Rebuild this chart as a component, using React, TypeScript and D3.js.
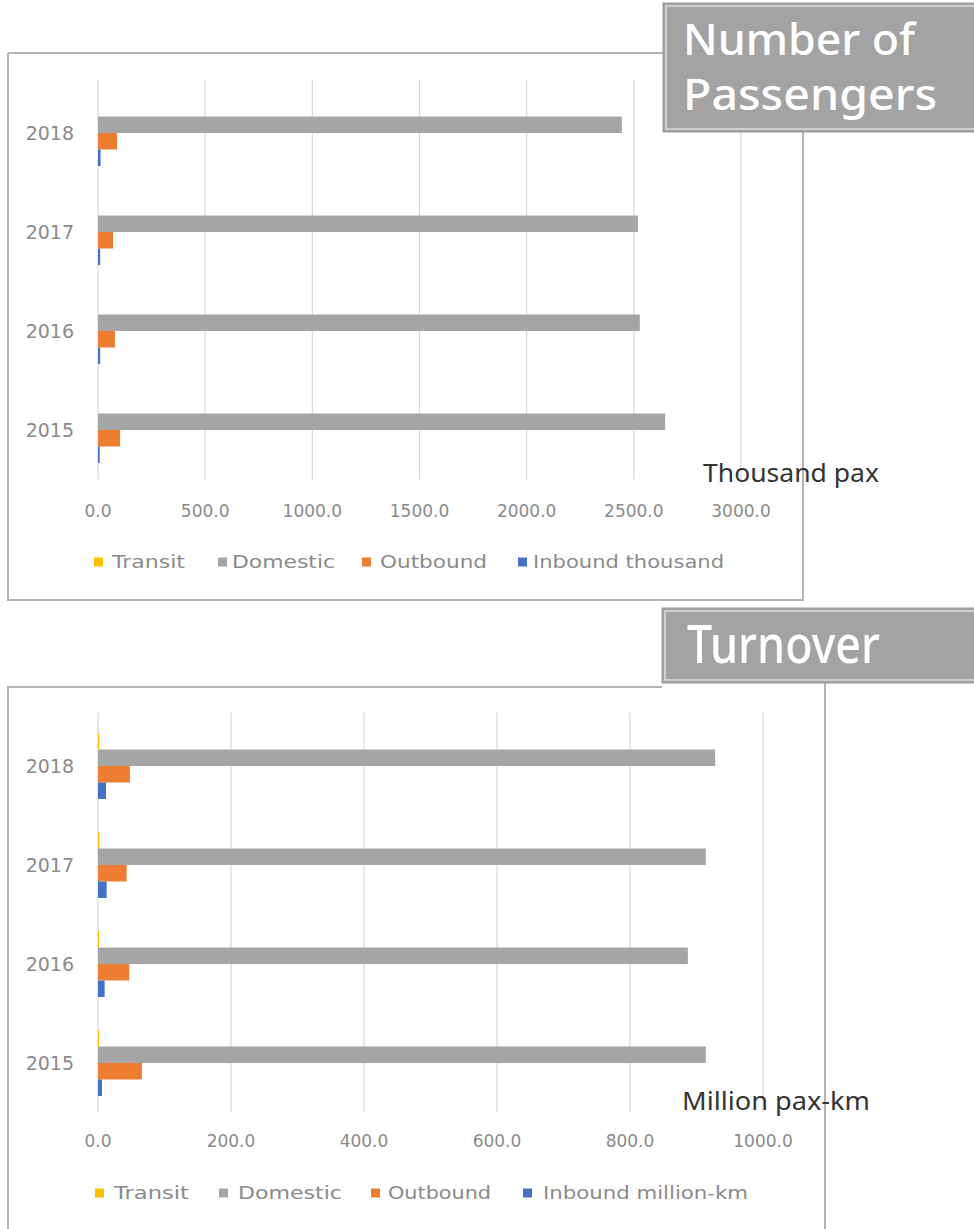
import React from "react";
import * as d3 from "d3";

const years = ["2018", "2017", "2016", "2015"];
const seriesNames = ["Transit", "Domestic", "Outbound", "Inbound"];
const seriesColors = ["#ffc000", "#a5a5a5", "#ed7d31", "#4472c4"];

// Number of passengers (thousand pax)
const paxTransit = [0, 0, 0, 0];
const paxDomestic = [2444, 2519, 2528, 2646];
const paxOutbound = [89, 70, 79, 103];
const paxInbound = [12, 10, 10, 8];
const paxTicks = [0, 500, 1000, 1500, 2000, 2500, 3000];
const paxLegend = ["Transit", "Domestic", "Outbound", "Inbound thousand"];

// Turnover (million pax-km)
const turnTransit = [2, 2, 0.5, 0.5];
const turnDomestic = [928, 914, 887, 914];
const turnOutbound = [48, 43, 47, 66];
const turnInbound = [12, 13, 10, 6];
const turnTicks = [0, 200, 400, 600, 800, 1000];
const turnLegend = ["Transit", "Domestic", "Outbound", "Inbound million-km"];

type PanelProps = {
  values: number[][];
  ticks: number[];
  xMax: number;
  xRange: [number, number];
  yRange: [number, number];
  tickY: number;
  legendY: number;
  legend: string[];
  legendSq: number[];
  legendTx: number[];
  legendTw: number[];
};

function Panel(p: PanelProps) {
  const x = d3.scaleLinear().domain([0, p.xMax]).range(p.xRange);
  const y = d3.scaleBand<string>().domain(years).range(p.yRange).padding(0);
  const bw = y.bandwidth();
  const inner = d3
    .scaleBand<string>()
    .domain(seriesNames)
    .range([bw / 6, (bw * 5) / 6])
    .padding(0);
  const fmt = d3.format(".1f");
  return (
    <g>
      {p.ticks.map((t) => (
        <line
          key={"g" + t}
          x1={x(t)}
          x2={x(t)}
          y1={p.yRange[0] - 4}
          y2={p.yRange[1]}
          stroke="#d9d9d9"
          strokeWidth={1.2}
        />
      ))}
      {years.map((yr, i) =>
        seriesNames.map((s, j) =>
          p.values[j][i] > 0 ? (
            <rect
              key={yr + s}
              x={x(0)}
              y={(y(yr) as number) + (inner(s) as number)}
              width={Math.max(1, x(p.values[j][i]) - x(0))}
              height={inner.bandwidth()}
              fill={seriesColors[j]}
            />
          ) : null
        )
      )}
      {years.map((yr) => (
        <text
          key={"yl" + yr}
          x={x(0) - 24}
          y={(y(yr) as number) + bw / 2}
          dy="0.35em"
          textAnchor="end"
          fontFamily="DejaVu Sans"
          fontSize={19}
          fill="#8a8a8a"
        >
          {yr}
        </text>
      ))}
      {p.ticks.map((t) => (
        <text
          key={"t" + t}
          x={x(t)}
          y={p.tickY}
          dy="0.35em"
          textAnchor="middle"
          fontFamily="DejaVu Sans"
          fontSize={17}
          fill="#8a8a8a"
        >
          {fmt(t)}
        </text>
      ))}
      {p.legend.map((l, i) => (
        <g key={"lg" + l}>
          <rect x={p.legendSq[i]} y={p.legendY - 4.5} width={9} height={9} fill={seriesColors[i]} />
          <text
            x={p.legendTx[i]}
            y={p.legendY}
            dy="0.35em"
            fontFamily="DejaVu Sans"
            fontSize={18}
            fill="#8a8a8a"
            textLength={p.legendTw[i]}
            lengthAdjust="spacingAndGlyphs"
          >
            {l}
          </text>
        </g>
      ))}
    </g>
  );
}

export default function App() {
  return (
    <svg
      width={974}
      height={1229}
      style={{ position: "absolute", left: 0, top: 0, background: "#fff" }}
    >
      {/* top frame */}
      <path d="M8,53 L663,53 M8,53 L8,600 L803,600 L803,132" fill="none" stroke="#b4b4b4" strokeWidth={2} />
      <Panel
        values={[paxTransit, paxDomestic, paxOutbound, paxInbound]}
        ticks={paxTicks}
        xMax={3000}
        xRange={[98, 741]}
        yRange={[83.5, 479.5]}
        tickY={511}
        legendY={562}
        legend={paxLegend}
        legendSq={[94, 218, 362, 518]}
        legendTx={[112, 232, 380, 533]}
        legendTw={[73, 103, 107, 191]}
      />
      <text x={703} y={482} fontFamily="Noto Sans" fontSize={25} fill="#333" textLength={176} lengthAdjust="spacingAndGlyphs">
        Thousand pax
      </text>
      {/* title box 1 */}
      <rect x={663} y={3} width={320} height={129} fill="#a3a3a3" stroke="#9a9a9a" strokeWidth={1} />
      <rect x={666} y={6} width={320} height={123} fill="none" stroke="#cfcfcf" strokeWidth={2} />
      <text x={683} y={55} fontFamily="Noto Sans" fontWeight={500} fontSize={44} fill="#ffffff" textLength={232} lengthAdjust="spacingAndGlyphs">
        Number of
      </text>
      <text x={683} y={110} fontFamily="Noto Sans" fontWeight={500} fontSize={44} fill="#ffffff" textLength={254} lengthAdjust="spacingAndGlyphs">
        Passengers
      </text>

      {/* bottom frame */}
      <path d="M8,1229 L8,687 L662,687 M825,683 L825,1229" fill="none" stroke="#b4b4b4" strokeWidth={2} />
      <Panel
        values={[turnTransit, turnDomestic, turnOutbound, turnInbound]}
        ticks={turnTicks}
        xMax={1000}
        xRange={[98, 763]}
        yRange={[716.5, 1112.5]}
        tickY={1141}
        legendY={1193}
        legend={turnLegend}
        legendSq={[95, 219, 371, 523]}
        legendTx={[114, 238, 388, 543]}
        legendTw={[75, 104, 103, 205]}
      />
      <text x={682} y={1110} fontFamily="Noto Sans" fontSize={25} fill="#333" textLength={188} lengthAdjust="spacingAndGlyphs">
        Million pax-km
      </text>
      {/* title box 2 */}
      <rect x={662} y={608} width={320} height={75} fill="#a3a3a3" stroke="#9a9a9a" strokeWidth={1} />
      <rect x={665} y={611} width={320} height={69} fill="none" stroke="#cfcfcf" strokeWidth={2} />
      <text x={687} y={663} fontFamily="Noto Sans" fontWeight={500} fontSize={52} fill="#ffffff" textLength={193} lengthAdjust="spacingAndGlyphs">
        Turnover
      </text>
    </svg>
  );
}
